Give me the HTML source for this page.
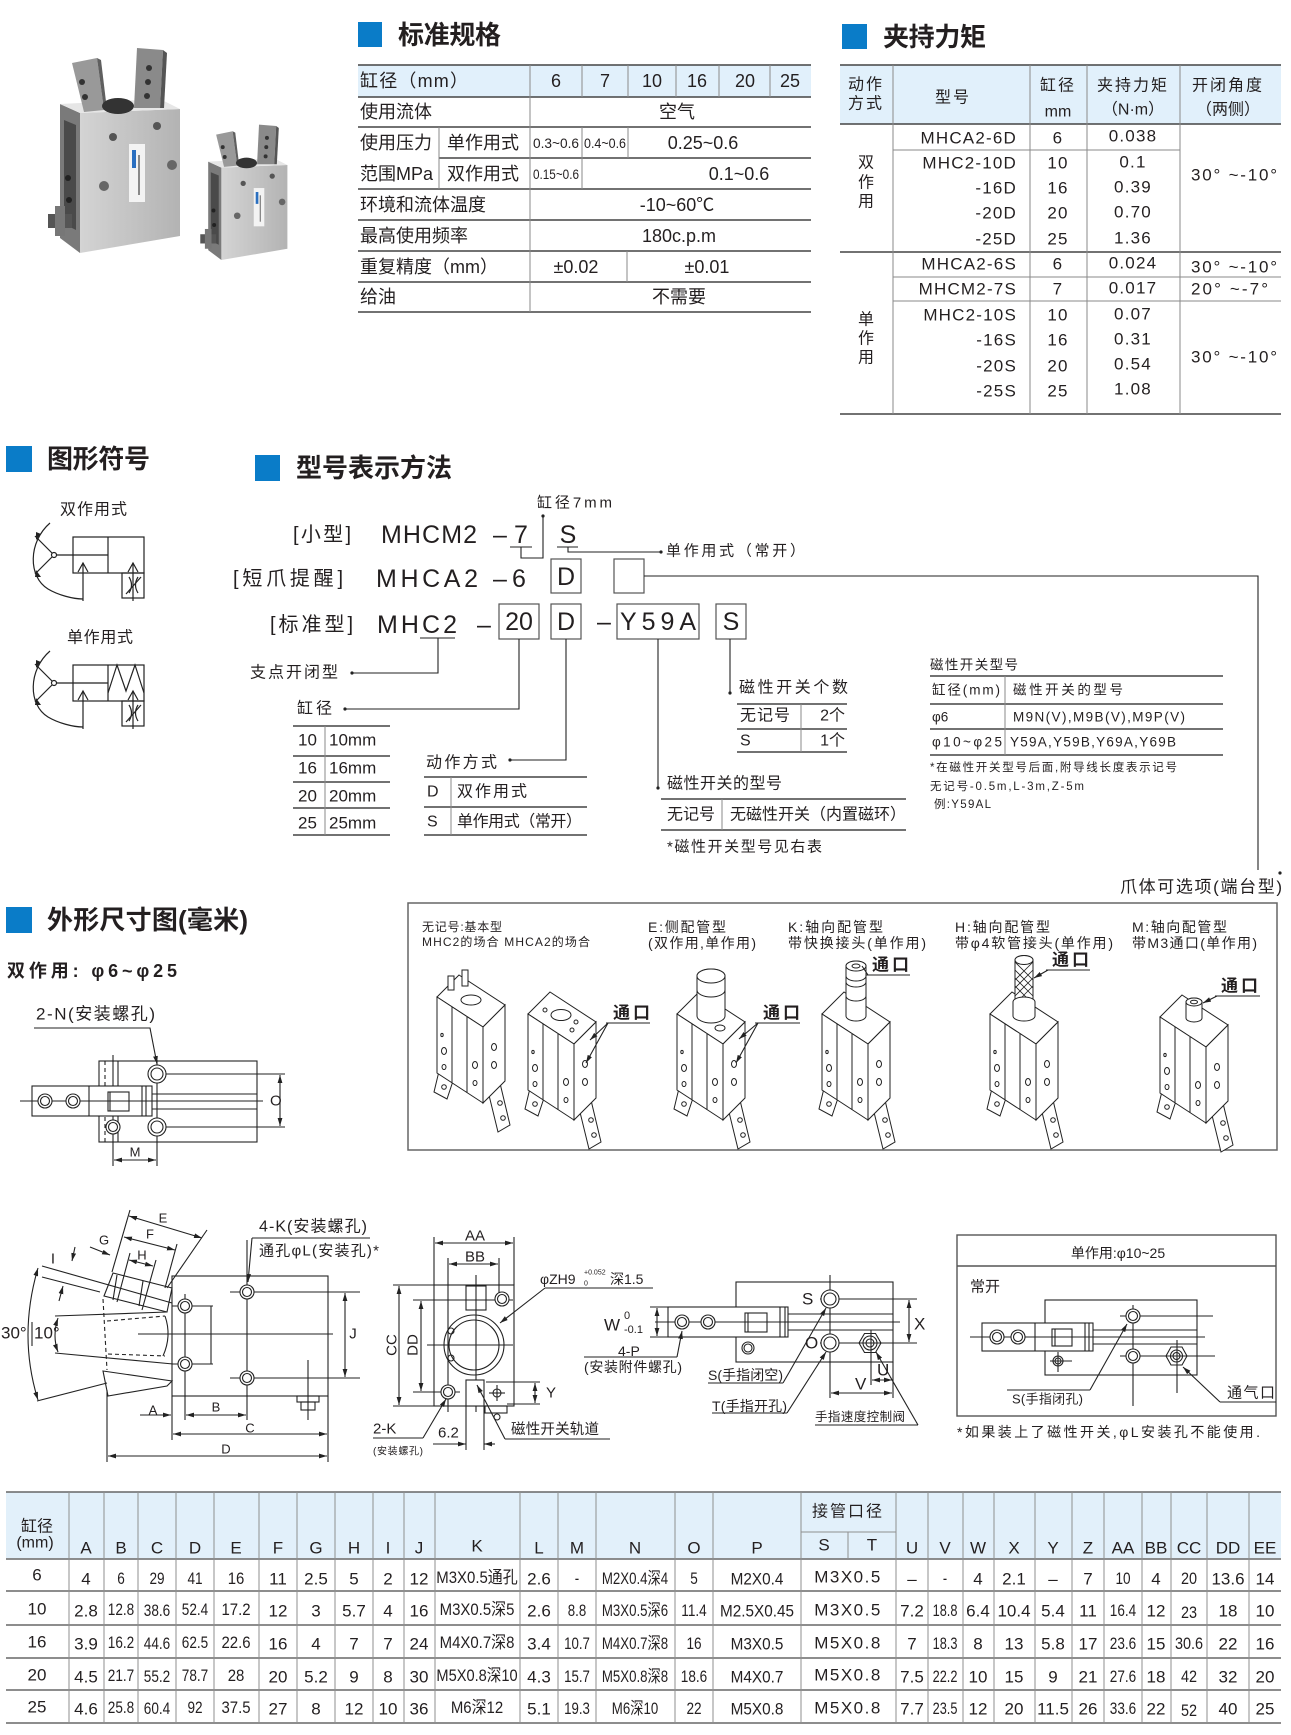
<!DOCTYPE html>
<html><head><meta charset="utf-8">
<style>
html,body{margin:0;padding:0;background:#fff;}
svg{display:block;}
text{font-family:"Liberation Sans","Noto Sans CJK SC",sans-serif;fill:#231f20;dominant-baseline:central;}
.ttl{font-size:26px;font-weight:bold;}
.m{text-anchor:middle}
.e{text-anchor:end}
.ln{stroke:#222;fill:none;stroke-width:1.1}
.tl{stroke:#444;stroke-width:1.6}
.tv{stroke:#8a8a8a;stroke-width:1}
.bt text{font-size:17px;text-anchor:middle}
</style></head><body>
<svg width="1291" height="1735" viewBox="0 0 1291 1735" xmlns="http://www.w3.org/2000/svg">
<defs>
<marker id="a" viewBox="0 0 10 6" refX="10" refY="3" markerWidth="8" markerHeight="5" orient="auto-start-reverse" markerUnits="userSpaceOnUse"><path d="M0,0 L10,3 L0,6 z" fill="#222"/></marker>
<linearGradient id="gb" x1="0" x2="1"><stop offset="0" stop-color="#d4d4d4"/><stop offset="1" stop-color="#b3b3b3"/></linearGradient>
<g id="h9"><circle r="9" fill="#fff" stroke="#222" stroke-width="1.1"/><circle r="6" fill="none" stroke="#222" stroke-width="1.1"/></g>
<g id="h7"><circle r="7" fill="#fff" stroke="#222" stroke-width="1.1"/><circle r="4.5" fill="none" stroke="#222" stroke-width="1.1"/></g>
<g id="photo">
 <polygon points="60,104 80,113 80,253 60,238" fill="#7a7a7a"/>
 <polygon points="64,120 76,125 76,230 64,224" fill="#4a4a4a"/>
 <polygon points="80,113 180,109 180,236 80,253" fill="url(#gb)"/>
 <polygon points="60,104 160,99 180,109 80,113" fill="#e6e6e6"/>
 <polygon points="72,63 97,58 104,110 84,112" fill="#999"/>
 <polygon points="97,58 101,60 107,110 104,110" fill="#5f5f5f"/>
 <polygon points="137,48 163,50 160,108 134,108" fill="#8a8a8a"/>
 <polygon points="163,50 167,53 164,108 160,108" fill="#555"/>
 <ellipse cx="118" cy="106" rx="16" ry="8" fill="#333"/>
 <circle cx="82" cy="82" r="3" fill="#333"/><circle cx="85" cy="97" r="3" fill="#333"/>
 <circle cx="149" cy="68" r="3" fill="#333"/><circle cx="148" cy="82" r="3" fill="#333"/><circle cx="147" cy="96" r="3" fill="#333"/>
 <circle cx="113" cy="137" r="4" fill="#555"/><circle cx="157" cy="126" r="4" fill="#555"/>
 <circle cx="104" cy="186" r="5" fill="#666"/><circle cx="172" cy="165" r="5" fill="#666"/>
 <circle cx="68" cy="178" r="3" fill="#222"/><circle cx="69" cy="200" r="3" fill="#222"/>
 <rect x="129" y="144" width="16" height="58" fill="#f3f3f3"/>
 <rect x="132" y="150" width="4" height="18" fill="#2a6fc0"/>
 <rect x="138" y="155" width="2" height="40" fill="#888"/>
 <rect x="48" y="214" width="24" height="14" fill="#555"/>
 <rect x="55" y="206" width="10" height="30" fill="#777"/>
</g>
<g id="gr" fill="#fff" stroke="#222" stroke-width="1">
 <polygon points="3,92 18,100 10,124 -3,117"/>
 <circle cx="7" cy="112" r="2.3"/>
 <polygon points="50,112 62,104 73,150 61,157"/>
 <circle cx="63" cy="128" r="2.3"/><circle cx="66" cy="143" r="2.3"/>
 <polygon points="0,22 22,0 68,30 46,52"/>
 <polygon points="0,22 46,52 46,128 0,98"/>
 <polygon points="46,52 68,30 68,106 46,128"/>
 <line x1="15" y1="32" x2="15" y2="108"/>
 <line x1="30" y1="42" x2="30" y2="118"/>
 <ellipse cx="5" cy="60" rx="1.2" ry="1.6"/>
 <ellipse cx="7" cy="76" rx="2.5" ry="3.5"/>
 <ellipse cx="7" cy="92" rx="2" ry="2.5"/>
 <ellipse cx="38" cy="90" rx="2.5" ry="3.5"/>
 <ellipse cx="38" cy="108" rx="2" ry="2.5"/>
 <ellipse cx="57" cy="72" rx="2.5" ry="3.5"/>
 <ellipse cx="57" cy="90" rx="2.5" ry="3.5"/>
</g>
<g id="sym" fill="none" stroke="#222" stroke-width="1.2">
 <rect x="0" y="0" width="71" height="36"/>
 <line x1="35" y1="0" x2="35" y2="36"/>
 <line x1="0" y1="18" x2="35" y2="18"/>
 <rect x="49" y="36" width="22" height="25"/>
 <polyline points="5,35 10,26 15,35"/>
 <line x1="10" y1="26" x2="10" y2="64"/>
 <polyline points="55,35 60,26 65,35"/>
 <line x1="60" y1="26" x2="60" y2="64"/>
 <line x1="53" y1="57" x2="68" y2="40"/>
 <path d="M56,40 Q61,48 56,56 M65,40 Q60,48 65,56"/>
 <circle cx="-19" cy="18" r="2.5"/>
 <line x1="-16.5" y1="18" x2="0" y2="18"/>
 <line x1="-21" y1="16" x2="-38" y2="-1"/>
 <line x1="-21" y1="20" x2="-38" y2="37"/>
 <path d="M-23,-14 C-45,5 -45,40 -25,52 C-15,58 0,62 10,62"/>
 <polygon points="-37,-5 -32,-3 -37,3" fill="#222" stroke="none"/>
 <polygon points="-37,33 -32,40 -38,40" fill="#222" stroke="none"/>
</g>
</defs>

<!-- ============ Product photos ============ -->
<use href="#photo"/>
<use href="#photo" transform="translate(168.6,93) scale(0.66)"/>

<!-- ============ 标准规格 ============ -->
<rect x="358" y="22" width="24" height="25" fill="#0a7cc8"/>
<text x="398" y="35" class="ttl" textLength="103">标准规格</text>
<rect x="358" y="65" width="453" height="32" fill="#e1f0fb"/>
<line x1="358" y1="65" x2="811" y2="65" class="tl"/>
<g class="tl">
<line x1="358" y1="97" x2="811" y2="97"/><line x1="358" y1="127" x2="811" y2="127"/>
<line x1="439" y1="158" x2="811" y2="158"/><line x1="358" y1="189" x2="811" y2="189"/>
<line x1="358" y1="220" x2="811" y2="220"/><line x1="358" y1="251" x2="811" y2="251"/>
<line x1="358" y1="282" x2="811" y2="282"/><line x1="358" y1="312" x2="811" y2="312"/>
</g>
<g class="tv">
<line x1="530" y1="65" x2="530" y2="312"/><line x1="439" y1="127" x2="439" y2="189"/>
<line x1="582" y1="65" x2="582" y2="97"/><line x1="628" y1="65" x2="628" y2="97"/>
<line x1="676" y1="65" x2="676" y2="97"/><line x1="719" y1="65" x2="719" y2="97"/>
<line x1="770" y1="65" x2="770" y2="97"/>
<line x1="582" y1="127" x2="582" y2="189"/><line x1="628" y1="127" x2="628" y2="158"/>
<line x1="627" y1="251" x2="627" y2="282"/>
</g>
<g style="font-size:18px">
<text x="360" y="81" textLength="108">缸径（mm）</text>
<text x="556" y="81" class="m">6</text><text x="605" y="81" class="m">7</text>
<text x="652" y="81" class="m">10</text><text x="697" y="81" class="m">16</text>
<text x="745" y="81" class="m">20</text><text x="790" y="81" class="m">25</text>
<text x="360" y="112">使用流体</text><text x="677" y="112" class="m">空气</text>
<text x="360" y="143">使用压力</text><text x="447" y="143">单作用式</text>
<text x="360" y="174">范围MPa</text><text x="447" y="174">双作用式</text>
<text x="703" y="143" class="m">0.25~0.6</text>
<text x="739" y="174" class="m">0.1~0.6</text>
<text x="360" y="205">环境和流体温度</text><text x="677" y="205" class="m">-10~60℃</text>
<text x="360" y="236">最高使用频率</text><text x="679" y="236" class="m">180c.p.m</text>
<text x="360" y="267">重复精度（mm）</text><text x="576" y="267" class="m">±0.02</text><text x="707" y="267" class="m">±0.01</text>
<text x="360" y="297">给油</text><text x="679" y="297" class="m">不需要</text>
</g>
<g style="font-size:14px">
<text x="533" y="143" textLength="46" lengthAdjust="spacingAndGlyphs">0.3~0.6</text>
<text x="584" y="143" textLength="42" lengthAdjust="spacingAndGlyphs">0.4~0.6</text>
<text x="533" y="174" textLength="46" lengthAdjust="spacingAndGlyphs">0.15~0.6</text>
</g>

<!-- ============ 夹持力矩 ============ -->
<rect x="842" y="24" width="25" height="25" fill="#0a7cc8"/>
<text x="883" y="37" class="ttl" textLength="103">夹持力矩</text>
<rect x="840" y="65" width="441" height="59" fill="#e1f0fb"/>
<g class="tl">
<line x1="840" y1="65" x2="1281" y2="65"/><line x1="840" y1="124" x2="1281" y2="124"/>
<line x1="840" y1="252" x2="1281" y2="252"/><line x1="840" y1="414" x2="1281" y2="414"/>
</g>
<g class="tv">
<line x1="893" y1="65" x2="893" y2="414"/><line x1="1030" y1="65" x2="1030" y2="414"/>
<line x1="1087" y1="65" x2="1087" y2="414"/><line x1="1180" y1="65" x2="1180" y2="414"/>
<line x1="893" y1="150" x2="1180" y2="150"/>
<line x1="893" y1="277" x2="1281" y2="277"/><line x1="893" y1="301" x2="1281" y2="301"/>
</g>
<g style="font-size:16px">
<text x="866" y="85" class="m" letter-spacing="2">动作</text>
<text x="866" y="104" class="m" letter-spacing="2">方式</text>
<text x="953" y="98" class="m" letter-spacing="2">型号</text>
<text x="1058" y="86" class="m" letter-spacing="2">缸径</text>
<text x="1058" y="112" class="m">mm</text>
<text x="1133" y="86" class="m" letter-spacing="2">夹持力矩</text>
<text x="1133" y="110" class="m">（N·m）</text>
<text x="1228" y="86" class="m" letter-spacing="2">开闭角度</text>
<text x="1228" y="110" class="m">（两侧）</text>
<text x="866" y="163" class="m">双</text><text x="866" y="183" class="m">作</text><text x="866" y="202" class="m">用</text>
<text x="866" y="320" class="m">单</text><text x="866" y="339" class="m">作</text><text x="866" y="358" class="m">用</text>
</g>
<g style="font-size:17px" letter-spacing="1.2">
<text x="1017" y="138" class="e">MHCA2-6D</text>
<text x="1017" y="163" class="e">MHC2-10D</text>
<text x="1017" y="188" class="e">-16D</text>
<text x="1017" y="213" class="e">-20D</text>
<text x="1017" y="239" class="e">-25D</text>
<text x="1017" y="264" class="e">MHCA2-6S</text>
<text x="1017" y="289" class="e">MHCM2-7S</text>
<text x="1017" y="315" class="e">MHC2-10S</text>
<text x="1017" y="340" class="e">-16S</text>
<text x="1017" y="366" class="e">-20S</text>
<text x="1017" y="391" class="e">-25S</text>
<text x="1058" y="138" class="m">6</text><text x="1058" y="163" class="m">10</text><text x="1058" y="188" class="m">16</text>
<text x="1058" y="213" class="m">20</text><text x="1058" y="239" class="m">25</text><text x="1058" y="264" class="m">6</text>
<text x="1058" y="289" class="m">7</text><text x="1058" y="315" class="m">10</text><text x="1058" y="340" class="m">16</text>
<text x="1058" y="366" class="m">20</text><text x="1058" y="391" class="m">25</text>
<text x="1133" y="136" class="m">0.038</text><text x="1133" y="162" class="m">0.1</text><text x="1133" y="187" class="m">0.39</text>
<text x="1133" y="212" class="m">0.70</text><text x="1133" y="238" class="m">1.36</text><text x="1133" y="263" class="m">0.024</text>
<text x="1133" y="288" class="m">0.017</text><text x="1133" y="314" class="m">0.07</text><text x="1133" y="339" class="m">0.31</text>
<text x="1133" y="364" class="m">0.54</text><text x="1133" y="389" class="m">1.08</text>
</g>
<g style="font-size:17px">
<text x="1191" y="175" textLength="86">30°  ~-10°</text>
<text x="1191" y="267" textLength="86">30°  ~-10°</text>
<text x="1191" y="289" textLength="77">20°  ~-7°</text>
<text x="1191" y="357" textLength="86">30°  ~-10°</text>
</g>

<!-- ============ 图形符号 ============ -->
<rect x="6" y="446" width="26" height="26" fill="#0a7cc8"/>
<text x="47" y="459" class="ttl" textLength="103">图形符号</text>
<text x="60" y="510" style="font-size:16px" textLength="67">双作用式</text>
<use href="#sym" transform="translate(73,537)"/>
<text x="67" y="638" style="font-size:16px" textLength="66">单作用式</text>
<use href="#sym" transform="translate(73,665)"/>
<polyline points="108,693 117,665 126,691 135,665 144,693" fill="none" stroke="#222" stroke-width="1.2"/>

<!-- ============ 型号表示方法 ============ -->
<rect x="255" y="455" width="25" height="26" fill="#0a7cc8"/>
<text x="296" y="468" class="ttl" textLength="156">型号表示方法</text>
<g style="font-size:20px">
<text x="293" y="535" textLength="58">[小型]</text>
<text x="233" y="579" textLength="110">[短爪提醒]</text>
<text x="270" y="625" textLength="83">[标准型]</text>
</g>
<g style="font-size:25px">
<text x="381" y="535" textLength="96">MHCM2</text>
<text x="376" y="579" textLength="102">MHCA2</text>
<text x="377" y="625" textLength="80">MHC2</text>
<text x="500" y="535" class="m">–</text>
<text x="500" y="579" class="m">–</text>
<text x="484" y="625" class="m">–</text>
<text x="604" y="622" class="m">–</text>
<text x="521" y="535" class="m">7</text>
<text x="568" y="535" class="m">S</text>
<text x="519" y="579" class="m">6</text>
<text x="566" y="577" class="m">D</text>
<text x="519" y="622" class="m">20</text>
<text x="566" y="622" class="m">D</text>
<text x="658" y="622" class="m" textLength="76">Y59A</text>
<text x="731" y="622" class="m">S</text>
</g>
<g fill="none" stroke="#555" stroke-width="1.2">
<rect x="551" y="559" width="30" height="34"/>
<rect x="614" y="559" width="30" height="34"/>
<rect x="499" y="604" width="40" height="35"/>
<rect x="551" y="604" width="30" height="35"/>
<rect x="617" y="604" width="82" height="35"/>
<rect x="716" y="604" width="30" height="35"/>
</g>
<g class="ln" stroke="#555">
<line x1="510" y1="547" x2="532" y2="547"/>
<polyline points="521,547 521,558 543,558 543,516"/>
<line x1="557" y1="547" x2="578" y2="547"/>
<polyline points="568,547 568,552 660,552"/>
<polyline points="644,576 1258,576 1258,870"/>
<line x1="420" y1="638" x2="455" y2="638"/>
<polyline points="438,638 438,673 352,673"/>
<polyline points="519,639 519,709 345,709"/>
<polyline points="566,639 566,760 510,760"/>
<line x1="658" y1="639" x2="658" y2="788"/>
<line x1="730" y1="639" x2="730" y2="693"/>
</g>
<g fill="#222">
<circle cx="543" cy="516" r="1.6"/><circle cx="661" cy="552" r="1.6"/><circle cx="352" cy="673" r="1.6"/>
<circle cx="345" cy="709" r="1.6"/><circle cx="510" cy="760" r="1.6"/><circle cx="658" cy="788" r="1.6"/>
<circle cx="730" cy="693" r="1.6"/><circle cx="1280" cy="873" r="1.6"/>
</g>
<g style="font-size:15px">
<text x="537" y="503" textLength="75">缸径7mm</text>
<text x="666" y="551" textLength="139">单作用式（常开）</text>
</g>
<g style="font-size:16px">
<text x="250" y="673" textLength="88">支点开闭型</text>
<text x="297" y="709" textLength="35">缸径</text>
<text x="426" y="763" textLength="71">动作方式</text>
<text x="739" y="688" textLength="109">磁性开关个数</text>
<text x="667" y="784" textLength="115">磁性开关的型号</text>
</g>
<g class="tl" stroke-width="1.3">
<line x1="293" y1="726" x2="390" y2="726"/><line x1="293" y1="756" x2="390" y2="756"/>
<line x1="293" y1="782" x2="390" y2="782"/><line x1="293" y1="808" x2="390" y2="808"/>
<line x1="293" y1="835" x2="390" y2="835"/>
<line x1="424" y1="777" x2="587" y2="777"/><line x1="424" y1="807" x2="587" y2="807"/><line x1="424" y1="835" x2="587" y2="835"/>
<line x1="737" y1="704" x2="847" y2="704"/><line x1="737" y1="729" x2="847" y2="729"/><line x1="737" y1="752" x2="847" y2="752"/>
<line x1="661" y1="799" x2="906" y2="799"/><line x1="661" y1="830" x2="906" y2="830"/>
<line x1="930" y1="676" x2="1223" y2="676"/><line x1="930" y1="704" x2="1223" y2="704"/>
<line x1="930" y1="729" x2="1223" y2="729"/><line x1="930" y1="755" x2="1223" y2="755"/>
</g>
<g class="tv" stroke="#555">
<line x1="325" y1="726" x2="325" y2="835"/>
<line x1="451" y1="777" x2="451" y2="835"/>
<line x1="801" y1="704" x2="801" y2="752"/>
<line x1="722" y1="799" x2="722" y2="830"/>
<line x1="1005" y1="676" x2="1005" y2="755"/>
</g>
<g style="font-size:17px">
<text x="298" y="740">10</text><text x="329" y="740">10mm</text>
<text x="298" y="768">16</text><text x="329" y="768">16mm</text>
<text x="298" y="796">20</text><text x="329" y="796">20mm</text>
<text x="298" y="823">25</text><text x="329" y="823">25mm</text>
</g>
<g style="font-size:16px">
<text x="427" y="792">D</text><text x="457" y="792" textLength="70">双作用式</text>
<text x="427" y="822">S</text><text x="457" y="822" textLength="125">单作用式（常开）</text>
<text x="740" y="716" textLength="50">无记号</text><text x="845" y="716" class="e">2个</text>
<text x="740" y="741">S</text><text x="845" y="741" class="e">1个</text>
<text x="667" y="815" textLength="48">无记号</text>
<text x="730" y="815" textLength="176">无磁性开关（内置磁环）</text>
<text x="667" y="847" textLength="155" style="font-size:15px">*磁性开关型号见右表</text>
</g>
<g style="font-size:13.5px">
<text x="930" y="665" textLength="88">磁性开关型号</text>
<text x="932" y="690" textLength="68">缸径(mm)</text>
<text x="1013" y="690" textLength="110">磁性开关的型号</text>
<text x="932" y="717">φ6</text>
<text x="1013" y="717" textLength="172">M9N(V),M9B(V),M9P(V)</text>
<text x="932" y="742" textLength="70">φ10~φ25</text>
<text x="1010" y="742" textLength="166">Y59A,Y59B,Y69A,Y69B</text>
</g>
<g style="font-size:11.5px">
<text x="930" y="768" textLength="247">*在磁性开关型号后面,附导线长度表示记号</text>
<text x="930" y="787" textLength="154">无记号-0.5m,L-3m,Z-5m</text>
<text x="934" y="805" textLength="57">例:Y59AL</text>
</g>
<text x="1120" y="887" style="font-size:17px" textLength="162">爪体可选项(端台型)</text>

<!-- ============ options box ============ -->
<rect x="408" y="903" width="869" height="247" fill="none" stroke="#666" stroke-width="1.5"/>
<g style="font-size:12px">
<text x="422" y="927" textLength="80">无记号:基本型</text>
<text x="422" y="942" textLength="168">MHC2的场合  MHCA2的场合</text>
</g>
<g style="font-size:14px">
<text x="648" y="927" textLength="78">E:侧配管型</text>
<text x="648" y="943" textLength="108">(双作用,单作用)</text>
<text x="788" y="927" textLength="95">K:轴向配管型</text>
<text x="788" y="943" textLength="138">带快换接头(单作用)</text>
<text x="955" y="927" textLength="95">H:轴向配管型</text>
<text x="955" y="943" textLength="158">带φ4软管接头(单作用)</text>
<text x="1132" y="927" textLength="95">M:轴向配管型</text>
<text x="1132" y="943" textLength="125">带M3通口(单作用)</text>
</g>
<use href="#gr" x="437" y="975"/>
<g fill="#fff" stroke="#222" stroke-width="1">
<rect x="448" y="976" width="6" height="14"/><rect x="462" y="970" width="6" height="16"/>
<ellipse cx="471" cy="1000" rx="10" ry="5"/>
</g>
<use href="#gr" x="528" y="992"/>
<g fill="#fff" stroke="#222" stroke-width="1">
<ellipse cx="561" cy="1015" rx="10" ry="5.5"/><circle cx="545" cy="1010" r="2"/><circle cx="576" cy="1022" r="2"/><circle cx="572" cy="1030" r="2"/>
</g>
<use href="#gr" x="677" y="992"/>
<g fill="#fff" stroke="#222" stroke-width="1">
<path d="M697,1016 L697,976 A14,7 0 0 1 725,976 L725,1016 A14,7 0 0 1 697,1016 Z"/>
<ellipse cx="711" cy="976" rx="14" ry="7"/>
<path d="M697,990 A14,7 0 0 0 725,990"/>
<ellipse cx="720" cy="1028" rx="5" ry="3"/>
</g>
<use href="#gr" x="822" y="992"/>
<g fill="#fff" stroke="#222" stroke-width="1">
<path d="M846,1016 L846,966 A10,5 0 0 1 866,966 L866,1016 A10,5 0 0 1 846,1016 Z"/>
<ellipse cx="856" cy="966" rx="10" ry="5"/>
<path d="M846,976 A10,5 0 0 0 866,976 M846,982 A10,5 0 0 0 866,982 M846,996 A10,5 0 0 0 866,996"/>
<ellipse cx="856" cy="966" rx="4" ry="2"/>
</g>
<use href="#gr" x="990" y="992"/>
<g fill="#fff" stroke="#222" stroke-width="1">
<path d="M1015,1016 L1015,960 A9,4.5 0 0 1 1033,960 L1033,1016 A9,4.5 0 0 1 1015,1016 Z"/>
<path d="M1015,962 L1033,980 M1015,970 L1033,988 M1015,978 L1033,996 M1015,986 L1031,1002 M1033,962 L1015,980 M1033,970 L1015,988 M1033,978 L1015,996 M1033,986 L1017,1002" stroke-width="0.8"/>
<ellipse cx="1024" cy="960" rx="9" ry="4.5"/>
<path d="M1013,1002 L1013,1016 A11,5 0 0 0 1035,1016 L1035,1002 A11,5 0 0 0 1013,1002Z"/>
</g>
<use href="#gr" x="1160" y="995"/>
<g fill="#fff" stroke="#222" stroke-width="1">
<path d="M1186,1018 L1186,1002 A8,4 0 0 1 1202,1002 L1202,1018 A8,4 0 0 1 1186,1018 Z"/>
<ellipse cx="1194" cy="1002" rx="8" ry="4"/><ellipse cx="1194" cy="1002" rx="3.5" ry="1.8"/>
</g>
<g style="font-size:17px;font-weight:bold">
<text x="613" y="1013" letter-spacing="3">通口</text>
<text x="763" y="1013" letter-spacing="3">通口</text>
<text x="872" y="965" letter-spacing="3">通口</text>
<text x="1052" y="960" letter-spacing="3">通口</text>
<text x="1221" y="986" letter-spacing="3">通口</text>
</g>
<g class="ln" stroke-width="0.9">
<line x1="606" y1="1023" x2="650" y2="1023"/>
<line x1="608" y1="1023" x2="590" y2="1040" marker-end="url(#a)"/>
<line x1="608" y1="1023" x2="586" y2="1063" marker-end="url(#a)"/>
<line x1="755" y1="1023" x2="800" y2="1023"/>
<line x1="758" y1="1023" x2="739" y2="1039" marker-end="url(#a)"/>
<line x1="758" y1="1023" x2="736" y2="1063" marker-end="url(#a)"/>
<line x1="866" y1="975" x2="910" y2="975"/>
<line x1="868" y1="975" x2="862" y2="966"/>
<line x1="1046" y1="970" x2="1090" y2="970"/>
<line x1="1048" y1="970" x2="1034" y2="978" marker-end="url(#a)"/>
<line x1="1215" y1="996" x2="1260" y2="996"/>
<line x1="1217" y1="996" x2="1203" y2="1003" marker-end="url(#a)"/>
</g>

<!-- ============ 外形尺寸图 ============ -->
<rect x="6" y="907" width="26" height="26" fill="#0a7cc8"/>
<text x="47" y="920" class="ttl" textLength="201">外形尺寸图(毫米)</text>
<text x="7" y="971" style="font-size:18px;font-weight:bold" textLength="170">双作用: φ6~φ25</text>
<text x="36" y="1014" style="font-size:17px" textLength="119">2-N(安装螺孔)</text>

<!-- top view -->
<g class="ln">
<rect x="99" y="1061" width="158" height="81"/>
<line x1="105" y1="1061" x2="105" y2="1142" stroke-dasharray="4,3"/>
<line x1="113" y1="1055" x2="113" y2="1166"/>
<line x1="118" y1="1061" x2="118" y2="1142"/>
<rect x="32" y="1086" width="120" height="30" fill="#fff"/>
<line x1="89" y1="1086" x2="89" y2="1116"/>
<rect x="108" y="1092" width="21" height="19"/>
<line x1="110" y1="1092" x2="110" y2="1111"/>
<line x1="142" y1="1086" x2="142" y2="1116"/><line x1="146" y1="1086" x2="146" y2="1116"/>
<line x1="152" y1="1094" x2="257" y2="1094"/><line x1="152" y1="1109" x2="257" y2="1109"/>
<line x1="20" y1="1101" x2="263" y2="1101"/>
<line x1="157" y1="1074" x2="285" y2="1074"/><line x1="157" y1="1127" x2="285" y2="1127"/>
<line x1="157" y1="1060" x2="157" y2="1166"/>
<line x1="280" y1="1075" x2="280" y2="1126" marker-start="url(#a)" marker-end="url(#a)"/>
<line x1="114" y1="1160" x2="156" y2="1160" marker-start="url(#a)" marker-end="url(#a)"/>
<polyline points="34,1028 150,1028 157,1064" marker-end="url(#a)"/>
</g>
<use href="#h9" x="157" y="1074"/><use href="#h9" x="157" y="1127"/>
<use href="#h7" x="113" y="1127"/><use href="#h7" x="45" y="1101"/><use href="#h7" x="73" y="1101"/>
<text x="270" y="1101" style="font-size:15px">O</text>
<text x="135" y="1152" class="m" style="font-size:13px">M</text>

<!-- side view -->
<g class="ln">
<rect x="172" y="1276" width="156" height="120"/>
<polygon points="104,1296 113,1273 172,1288 167,1312" fill="#fff"/>
<line x1="117" y1="1275" x2="113" y2="1300"/><line x1="143" y1="1281" x2="139" y2="1306"/>
<line x1="103" y1="1299" x2="107" y2="1370" stroke-dasharray="4,3"/>
<line x1="107" y1="1321" x2="165" y2="1316" stroke-dasharray="4,3"/>
<line x1="108" y1="1354" x2="165" y2="1356" stroke-dasharray="4,3"/>
<path d="M165,1316 Q172,1336 163,1356"/>
<polygon points="103,1371 172,1381 167,1386 108,1396" fill="#fff"/>
<line x1="42" y1="1266" x2="172" y2="1303"/>
<line x1="42" y1="1277" x2="100" y2="1292"/>
<line x1="55" y1="1316" x2="167" y2="1312"/>
<line x1="55" y1="1353" x2="173" y2="1364"/>
<line x1="37" y1="1401" x2="107" y2="1383"/>
<line x1="138" y1="1334" x2="333" y2="1334"/>
<path d="M38,1268 Q18,1336 38,1400" marker-start="url(#a)" marker-end="url(#a)"/>
<path d="M58,1318 Q52,1336 58,1352" marker-start="url(#a)" marker-end="url(#a)"/>
<line x1="32" y1="1322" x2="32" y2="1346"/>
<line x1="129" y1="1216" x2="202" y2="1238" marker-start="url(#a)" marker-end="url(#a)"/>
<line x1="112" y1="1272" x2="130" y2="1210"/><line x1="167" y1="1288" x2="207" y2="1230"/>
<line x1="124" y1="1237" x2="175" y2="1250" marker-start="url(#a)" marker-end="url(#a)"/>
<line x1="177" y1="1244" x2="165" y2="1288"/>
<line x1="129" y1="1260" x2="153" y2="1266" marker-start="url(#a)" marker-end="url(#a)"/>
<line x1="130" y1="1253" x2="117" y2="1302"/><line x1="156" y1="1260" x2="142" y2="1310"/>
<line x1="90" y1="1247" x2="110" y2="1255" marker-end="url(#a)"/>
<line x1="75" y1="1247" x2="72" y2="1261" marker-end="url(#a)"/>
<line x1="59" y1="1301" x2="63" y2="1286" marker-end="url(#a)"/>
<line x1="185" y1="1294" x2="185" y2="1420"/>
<line x1="247" y1="1240" x2="247" y2="1420"/>
<line x1="230" y1="1292" x2="360" y2="1292"/><line x1="230" y1="1378" x2="360" y2="1378"/>
<line x1="172" y1="1306" x2="213" y2="1306"/><line x1="172" y1="1364" x2="213" y2="1364"/>
<line x1="211" y1="1306" x2="211" y2="1364"/>
<line x1="345" y1="1293" x2="345" y2="1377" marker-start="url(#a)" marker-end="url(#a)"/>
<rect x="297" y="1396" width="22" height="6"/><rect x="301" y="1402" width="14" height="8"/>
<line x1="308" y1="1360" x2="308" y2="1420"/>
<polyline points="252,1238 370,1238"/>
<line x1="252" y1="1238" x2="248" y2="1282" marker-end="url(#a)"/>
<line x1="172" y1="1396" x2="172" y2="1440"/><line x1="328" y1="1396" x2="328" y2="1462"/>
<line x1="107" y1="1390" x2="107" y2="1462"/>
<line x1="140" y1="1415" x2="171" y2="1415" marker-end="url(#a)"/>
<line x1="186" y1="1415" x2="246" y2="1415" marker-start="url(#a)" marker-end="url(#a)"/>
<line x1="173" y1="1434" x2="327" y2="1434" marker-start="url(#a)" marker-end="url(#a)"/>
<line x1="108" y1="1456" x2="327" y2="1456" marker-start="url(#a)" marker-end="url(#a)"/>
</g>
<use href="#h7" x="185" y="1306"/><use href="#h7" x="185" y="1364"/>
<use href="#h7" x="247" y="1292"/><use href="#h7" x="247" y="1378"/>
<g style="font-size:13px">
<text x="163" y="1218" class="m">E</text><text x="150" y="1234" class="m">F</text>
<text x="104" y="1240" class="m">G</text><text x="142" y="1255" class="m">H</text>
<text x="53" y="1259" class="m" style="font-size:15px">I</text>
<text x="153" y="1410" class="m">A</text><text x="216" y="1407" class="m">B</text>
<text x="250" y="1428" class="m">C</text><text x="226" y="1449" class="m">D</text>
<text x="353" y="1334" class="m" style="font-size:15px">J</text>
</g>
<text x="1" y="1333" style="font-size:17px">30°</text>
<text x="34" y="1333" style="font-size:17px">10°</text>
<text x="259" y="1227" style="font-size:16px" textLength="108">4-K(安装螺孔)</text>
<text x="259" y="1251" style="font-size:15px" textLength="120">通孔φL(安装孔)*</text>

<!-- front view -->
<g class="ln">
<rect x="434" y="1285" width="80" height="121"/>
<rect x="466" y="1286" width="20" height="24"/><line x1="466" y1="1300" x2="486" y2="1300"/>
<circle cx="474" cy="1345" r="30"/><circle cx="474" cy="1345" r="25"/>
<circle cx="451" cy="1331" r="3"/><circle cx="451" cy="1358" r="3"/>
<line x1="476" y1="1275" x2="476" y2="1412"/>
<line x1="427" y1="1345" x2="513" y2="1345"/>
<rect x="466" y="1380" width="18" height="26" fill="#fff"/>
<line x1="466" y1="1406" x2="466" y2="1450"/><line x1="484" y1="1406" x2="484" y2="1450"/>
<line x1="433" y1="1444" x2="466" y2="1444" marker-end="url(#a)"/>
<line x1="495" y1="1444" x2="484" y2="1444" marker-end="url(#a)"/>
<circle cx="497" cy="1393" r="4"/><line x1="489" y1="1393" x2="505" y2="1393"/><line x1="497" y1="1385" x2="497" y2="1401"/>
<rect x="485" y="1406" width="22" height="7"/><circle cx="497" cy="1417" r="3"/>
<line x1="434" y1="1237" x2="434" y2="1285"/><line x1="514" y1="1237" x2="514" y2="1285"/>
<line x1="435" y1="1243" x2="513" y2="1243" marker-start="url(#a)" marker-end="url(#a)"/>
<line x1="448" y1="1258" x2="448" y2="1412"/><line x1="499" y1="1258" x2="499" y2="1300"/>
<line x1="449" y1="1264" x2="498" y2="1264" marker-start="url(#a)" marker-end="url(#a)"/>
<line x1="393" y1="1285" x2="434" y2="1285"/><line x1="393" y1="1406" x2="434" y2="1406"/>
<line x1="399" y1="1286" x2="399" y2="1405" marker-start="url(#a)" marker-end="url(#a)"/>
<line x1="413" y1="1300" x2="513" y2="1300"/><line x1="413" y1="1392" x2="460" y2="1392"/>
<line x1="421" y1="1301" x2="421" y2="1391" marker-start="url(#a)" marker-end="url(#a)"/>
<line x1="486" y1="1382" x2="540" y2="1382"/><line x1="507" y1="1404" x2="540" y2="1404"/>
<line x1="535" y1="1383" x2="535" y2="1403" marker-start="url(#a)" marker-end="url(#a)"/>
<polyline points="653,1288 545,1288"/><line x1="545" y1="1288" x2="500" y2="1323" marker-end="url(#a)"/>
<polyline points="610,1439 505,1439"/><line x1="505" y1="1439" x2="477" y2="1385" marker-end="url(#a)"/>
<polyline points="373,1438 423,1438"/><line x1="423" y1="1438" x2="446" y2="1399" marker-end="url(#a)"/>
</g>
<use href="#h7" x="502" y="1299"/><use href="#h7" x="448" y="1392"/>
<g style="font-size:15px">
<text x="475" y="1236" class="m">AA</text>
<text x="475" y="1257" class="m">BB</text>
<text x="392" y="1345" class="m" transform="rotate(-90 392 1345)">CC</text>
<text x="413" y="1345" class="m" transform="rotate(-90 413 1345)">DD</text>
<text x="546" y="1393">Y</text>
<text x="438" y="1433">6.2</text>
<text x="373" y="1429">2-K</text>
</g>
<text x="373" y="1452" style="font-size:10px" textLength="50">(安装螺孔)</text>
<text x="511" y="1430" style="font-size:14.5px" textLength="88">磁性开关轨道</text>
<text x="540" y="1279" style="font-size:14px">φZH9</text>
<text x="584" y="1273" style="font-size:7px">+0.052</text>
<text x="584" y="1284" style="font-size:7px">0</text>
<text x="610" y="1279" style="font-size:14px">深1.5</text>

<!-- right view -->
<g class="ln">
<rect x="736" y="1282" width="157" height="80"/>
<rect x="668" y="1307" width="120" height="30" fill="#fff"/>
<rect x="745" y="1313" width="22" height="19"/><line x1="748" y1="1313" x2="748" y2="1332"/>
<line x1="780" y1="1307" x2="780" y2="1337"/><line x1="785" y1="1307" x2="785" y2="1337"/>
<line x1="788" y1="1314" x2="893" y2="1314"/><line x1="788" y1="1330" x2="893" y2="1330"/>
<line x1="655" y1="1322" x2="900" y2="1322"/>
<line x1="820" y1="1299" x2="917" y2="1299"/><line x1="820" y1="1343" x2="917" y2="1343"/>
<line x1="830" y1="1275" x2="830" y2="1398"/><line x1="871" y1="1330" x2="871" y2="1385"/>
<line x1="893" y1="1362" x2="893" y2="1398"/>
<line x1="650" y1="1307" x2="668" y2="1307"/><line x1="650" y1="1337" x2="668" y2="1337"/>
<line x1="657" y1="1308" x2="657" y2="1336" marker-start="url(#a)" marker-end="url(#a)"/>
<line x1="909" y1="1300" x2="909" y2="1342" marker-start="url(#a)" marker-end="url(#a)"/>
<line x1="872" y1="1380" x2="892" y2="1380" marker-start="url(#a)" marker-end="url(#a)"/>
<line x1="831" y1="1393" x2="892" y2="1393" marker-start="url(#a)" marker-end="url(#a)"/>
<polygon points="881,1343 875.5,1352.5 864.5,1352.5 859,1343 864.5,1333.5 875.5,1333.5"/>
<circle cx="870" cy="1343" r="7"/><circle cx="870" cy="1343" r="4"/>
<circle cx="748" cy="1348" r="6"/><circle cx="748" cy="1348" r="4"/>
<polyline points="584,1357 677,1357"/><line x1="677" y1="1357" x2="682" y2="1331" marker-end="url(#a)"/>
<polyline points="708,1383 783,1383"/><line x1="783" y1="1383" x2="826" y2="1308" marker-end="url(#a)"/>
<polyline points="712,1413 787,1413"/><line x1="787" y1="1413" x2="826" y2="1352" marker-end="url(#a)"/>
<polyline points="815,1425 918,1425"/><line x1="918" y1="1425" x2="876" y2="1352" marker-end="url(#a)"/>
</g>
<use href="#h7" x="682" y="1322"/><use href="#h7" x="708" y="1322"/>
<use href="#h9" x="830" y="1299"/><use href="#h9" x="830" y="1343"/>
<g style="font-size:17px">
<text x="802" y="1299">S</text><text x="805" y="1343">O</text>
<text x="914" y="1324">X</text>
<text x="877" y="1370">U</text>
<text x="855" y="1384">V</text>
<text x="604" y="1325">W</text>
</g>
<text x="624" y="1316" style="font-size:11px">0</text>
<text x="624" y="1330" style="font-size:11px">-0.1</text>
<g style="font-size:14px">
<text x="618" y="1351">4-P</text>
<text x="584" y="1367" textLength="98">(安装附件螺孔)</text>
<text x="708" y="1375" textLength="75">S(手指闭空)</text>
<text x="712" y="1406" textLength="75">T(手指开孔)</text>
</g>
<text x="815" y="1417" style="font-size:12.5px" textLength="90">手指速度控制阀</text>

<!-- single acting box -->
<rect x="957" y="1235" width="319" height="181" fill="none" stroke="#555" stroke-width="1.4"/>
<line x1="957" y1="1266" x2="1276" y2="1266" stroke="#555" stroke-width="1.4"/>
<text x="1118" y="1253" class="m" style="font-size:14px">单作用:φ10~25</text>
<text x="970" y="1287" style="font-size:15px">常开</text>
<g class="ln">
<rect x="1045" y="1300" width="152" height="75"/>
<rect x="982" y="1323" width="111" height="28" fill="#fff"/>
<line x1="1035" y1="1323" x2="1035" y2="1351"/>
<rect x="1052" y="1329" width="20" height="17"/><line x1="1055" y1="1329" x2="1055" y2="1346"/>
<line x1="1085" y1="1323" x2="1085" y2="1351"/><line x1="1089" y1="1323" x2="1089" y2="1351"/>
<line x1="970" y1="1337" x2="1205" y2="1337"/>
<line x1="1093" y1="1330" x2="1197" y2="1330"/><line x1="1093" y1="1344" x2="1197" y2="1344"/>
<line x1="1120" y1="1316" x2="1213" y2="1316"/><line x1="1120" y1="1356" x2="1215" y2="1356"/>
<line x1="1133" y1="1305" x2="1133" y2="1406"/><line x1="1177" y1="1340" x2="1177" y2="1393"/>
<line x1="1050" y1="1361" x2="1072" y2="1361"/><line x1="1058" y1="1352" x2="1058" y2="1372"/>
<polygon points="1187,1356 1182,1365 1171,1365 1166,1356 1171,1347 1182,1347"/>
<circle cx="1176.5" cy="1356" r="6"/><circle cx="1176.5" cy="1356" r="3.5"/>
<circle cx="1058" cy="1361" r="5"/><circle cx="1058" cy="1361" r="3"/>
<polyline points="1007,1390 1090,1390"/><line x1="1090" y1="1390" x2="1127" y2="1324" marker-end="url(#a)"/>
<polyline points="1276,1402 1220,1402"/><line x1="1220" y1="1402" x2="1183" y2="1367" marker-end="url(#a)"/>
</g>
<use href="#h7" x="997" y="1337"/><use href="#h7" x="1018" y="1337"/>
<use href="#h7" x="1133" y="1316"/><use href="#h7" x="1133" y="1356"/>
<text x="1012" y="1399" style="font-size:13px" textLength="71">S(手指闭孔)</text>
<text x="1227" y="1393" style="font-size:15px" textLength="48">通气口</text>
<text x="957" y="1432" style="font-size:14px" textLength="303">*如果装上了磁性开关,φL安装孔不能使用.</text>

<!-- ============ bottom table ============ -->
<rect x="6" y="1492" width="1275" height="67" fill="#e2f0fa"/>
<line x1="6" y1="1492" x2="1281" y2="1492" stroke="#666" stroke-width="1.6"/>
<g stroke="#7d7d7d" stroke-width="1.8">
<line x1="6" y1="1559" x2="1281" y2="1559"/><line x1="6" y1="1591" x2="1281" y2="1591"/>
<line x1="6" y1="1625" x2="1281" y2="1625"/><line x1="6" y1="1658" x2="1281" y2="1658"/>
<line x1="6" y1="1690" x2="1281" y2="1690"/><line x1="6" y1="1723" x2="1281" y2="1723"/>
</g>
<g stroke="#8f8f8f" stroke-width="1">
<line x1="69" y1="1492" x2="69" y2="1723"/><line x1="104" y1="1492" x2="104" y2="1723"/>
<line x1="138" y1="1492" x2="138" y2="1723"/><line x1="176" y1="1492" x2="176" y2="1723"/>
<line x1="214" y1="1492" x2="214" y2="1723"/><line x1="259" y1="1492" x2="259" y2="1723"/>
<line x1="297" y1="1492" x2="297" y2="1723"/><line x1="335" y1="1492" x2="335" y2="1723"/>
<line x1="373" y1="1492" x2="373" y2="1723"/><line x1="404" y1="1492" x2="404" y2="1723"/>
<line x1="435" y1="1492" x2="435" y2="1723"/><line x1="520" y1="1492" x2="520" y2="1723"/>
<line x1="558" y1="1492" x2="558" y2="1723"/><line x1="596" y1="1492" x2="596" y2="1723"/>
<line x1="675" y1="1492" x2="675" y2="1723"/><line x1="713" y1="1492" x2="713" y2="1723"/>
<line x1="801" y1="1492" x2="801" y2="1723"/><line x1="848" y1="1532" x2="848" y2="1559"/>
<line x1="801" y1="1532" x2="896" y2="1532"/>
<line x1="896" y1="1492" x2="896" y2="1723"/><line x1="928" y1="1492" x2="928" y2="1723"/>
<line x1="963" y1="1492" x2="963" y2="1723"/><line x1="994" y1="1492" x2="994" y2="1723"/>
<line x1="1035" y1="1492" x2="1035" y2="1723"/><line x1="1072" y1="1492" x2="1072" y2="1723"/>
<line x1="1104" y1="1492" x2="1104" y2="1723"/><line x1="1142" y1="1492" x2="1142" y2="1723"/>
<line x1="1171" y1="1492" x2="1171" y2="1723"/><line x1="1207" y1="1492" x2="1207" y2="1723"/>
<line x1="1249" y1="1492" x2="1249" y2="1723"/>
</g>
<g class="bt">
<text x="37" y="1527" style="font-size:16px">缸径</text>
<text x="35" y="1543" style="font-size:16px">(mm)</text>
<text x="848" y="1512" style="font-size:16px" letter-spacing="2">接管口径</text>
<text x="86" y="1548">A</text><text x="121" y="1548">B</text><text x="157" y="1548">C</text>
<text x="195" y="1548">D</text><text x="236" y="1548">E</text><text x="278" y="1548">F</text>
<text x="316" y="1548">G</text><text x="354" y="1548">H</text><text x="388" y="1548">I</text>
<text x="419" y="1548">J</text><text x="477" y="1546">K</text><text x="539" y="1548">L</text>
<text x="577" y="1548">M</text><text x="635" y="1548">N</text><text x="694" y="1548">O</text>
<text x="757" y="1548">P</text><text x="824" y="1545">S</text><text x="872" y="1545">T</text>
<text x="912" y="1548">U</text><text x="945" y="1548">V</text><text x="978" y="1548">W</text>
<text x="1014" y="1548">X</text><text x="1053" y="1548">Y</text><text x="1088" y="1548">Z</text>
<text x="1123" y="1548">AA</text><text x="1156" y="1548">BB</text><text x="1189" y="1548">CC</text>
<text x="1228" y="1548">DD</text><text x="1265" y="1548">EE</text>

<text x="37" y="1575">6</text><text x="37" y="1609">10</text><text x="37" y="1642">16</text><text x="37" y="1675">20</text><text x="37" y="1707">25</text>

<text x="86" y="1579">4</text><text x="86" y="1611">2.8</text><text x="86" y="1644">3.9</text><text x="86" y="1677">4.5</text><text x="86" y="1709">4.6</text>
<g>
<text transform="matrix(.8,0,0,1,121,1579)">6</text><text transform="matrix(.8,0,0,1,121,1610)">12.8</text><text transform="matrix(.8,0,0,1,121,1643)">16.2</text><text transform="matrix(.8,0,0,1,121,1676)">21.7</text><text transform="matrix(.8,0,0,1,121,1708)">25.8</text>
<text transform="matrix(.8,0,0,1,157,1579)">29</text><text transform="matrix(.8,0,0,1,157,1611)">38.6</text><text transform="matrix(.8,0,0,1,157,1644)">44.6</text><text transform="matrix(.8,0,0,1,157,1677)">55.2</text><text transform="matrix(.8,0,0,1,157,1709)">60.4</text>
<text transform="matrix(.8,0,0,1,195,1579)">41</text><text transform="matrix(.8,0,0,1,195,1610)">52.4</text><text transform="matrix(.8,0,0,1,195,1643)">62.5</text><text transform="matrix(.8,0,0,1,195,1676)">78.7</text><text transform="matrix(.8,0,0,1,195,1708)">92</text>
<text transform="matrix(.88,0,0,1,236,1579)">16</text><text transform="matrix(.88,0,0,1,236,1610)">17.2</text><text transform="matrix(.88,0,0,1,236,1643)">22.6</text><text transform="matrix(.88,0,0,1,236,1676)">28</text><text transform="matrix(.88,0,0,1,236,1708)">37.5</text>
</g>
<text x="278" y="1579">11</text><text x="278" y="1611">12</text><text x="278" y="1644">16</text><text x="278" y="1677">20</text><text x="278" y="1709">27</text>
<text x="316" y="1579">2.5</text><text x="316" y="1611">3</text><text x="316" y="1644">4</text><text x="316" y="1677">5.2</text><text x="316" y="1709">8</text>
<text x="354" y="1579">5</text><text x="354" y="1611">5.7</text><text x="354" y="1644">7</text><text x="354" y="1677">9</text><text x="354" y="1709">12</text>
<text x="388" y="1579">2</text><text x="388" y="1611">4</text><text x="388" y="1644">7</text><text x="388" y="1677">8</text><text x="388" y="1709">10</text>
<text x="419" y="1579">12</text><text x="419" y="1611">16</text><text x="419" y="1644">24</text><text x="419" y="1677">30</text><text x="419" y="1709">36</text>
<g style="font-size:16px">
<text transform="matrix(.88,0,0,1,477,1578)">M3X0.5通孔</text><text transform="matrix(.88,0,0,1,477,1610)">M3X0.5深5</text><text transform="matrix(.88,0,0,1,477,1643)">M4X0.7深8</text><text transform="matrix(.86,0,0,1,477,1676)">M5X0.8深10</text><text transform="matrix(.88,0,0,1,477,1708)">M6深12</text>
<text transform="matrix(.78,0,0,1,635,1579)">M2X0.4深4</text><text transform="matrix(.78,0,0,1,635,1611)">M3X0.5深6</text><text transform="matrix(.78,0,0,1,635,1644)">M4X0.7深8</text><text transform="matrix(.78,0,0,1,635,1677)">M5X0.8深8</text><text transform="matrix(.78,0,0,1,635,1709)">M6深10</text>
<text transform="matrix(.9,0,0,1,757,1579)">M2X0.4</text><text transform="matrix(.9,0,0,1,757,1611)">M2.5X0.45</text><text transform="matrix(.9,0,0,1,757,1644)">M3X0.5</text><text transform="matrix(.9,0,0,1,757,1677)">M4X0.7</text><text transform="matrix(.9,0,0,1,757,1709)">M5X0.8</text>
</g>
<text x="539" y="1579">2.6</text><text x="539" y="1611">2.6</text><text x="539" y="1644">3.4</text><text x="539" y="1677">4.3</text><text x="539" y="1709">5.1</text>
<text transform="matrix(.78,0,0,1,577,1579)">-</text><text transform="matrix(.78,0,0,1,577,1611)">8.8</text><text transform="matrix(.78,0,0,1,577,1644)">10.7</text><text transform="matrix(.78,0,0,1,577,1677)">15.7</text><text transform="matrix(.78,0,0,1,577,1709)">19.3</text>
<text transform="matrix(.8,0,0,1,694,1579)">5</text><text transform="matrix(.8,0,0,1,694,1611)">11.4</text><text transform="matrix(.8,0,0,1,694,1644)">16</text><text transform="matrix(.8,0,0,1,694,1677)">18.6</text><text transform="matrix(.8,0,0,1,694,1709)">22</text>
<g letter-spacing="1.5">
<text x="848" y="1577">M3X0.5</text><text x="848" y="1610">M3X0.5</text><text x="848" y="1643">M5X0.8</text><text x="848" y="1675">M5X0.8</text><text x="848" y="1708">M5X0.8</text>
</g>
<text x="912" y="1579">–</text><text x="912" y="1611">7.2</text><text x="912" y="1644">7</text><text x="912" y="1677">7.5</text><text x="912" y="1709">7.7</text>
<text transform="matrix(.75,0,0,1,945,1579)">-</text><text transform="matrix(.75,0,0,1,945,1611)">18.8</text><text transform="matrix(.75,0,0,1,945,1644)">18.3</text><text transform="matrix(.75,0,0,1,945,1677)">22.2</text><text transform="matrix(.75,0,0,1,945,1709)">23.5</text>
<text x="978" y="1579">4</text><text x="978" y="1611">6.4</text><text x="978" y="1644">8</text><text x="978" y="1677">10</text><text x="978" y="1709">12</text>
<text x="1014" y="1579">2.1</text><text x="1014" y="1611">10.4</text><text x="1014" y="1644">13</text><text x="1014" y="1677">15</text><text x="1014" y="1709">20</text>
<text x="1053" y="1579">–</text><text x="1053" y="1611">5.4</text><text x="1053" y="1644">5.8</text><text x="1053" y="1677">9</text><text x="1053" y="1709">11.5</text>
<text x="1088" y="1579">7</text><text x="1088" y="1611">11</text><text x="1088" y="1644">17</text><text x="1088" y="1677">21</text><text x="1088" y="1709">26</text>
<text transform="matrix(.8,0,0,1,1123,1579)">10</text><text transform="matrix(.8,0,0,1,1123,1611)">16.4</text><text transform="matrix(.8,0,0,1,1123,1644)">23.6</text><text transform="matrix(.8,0,0,1,1123,1677)">27.6</text><text transform="matrix(.8,0,0,1,1123,1709)">33.6</text>
<text x="1156" y="1579">4</text><text x="1156" y="1611">12</text><text x="1156" y="1644">15</text><text x="1156" y="1677">18</text><text x="1156" y="1709">22</text>
<text transform="matrix(.85,0,0,1,1189,1579)">20</text><text transform="matrix(.85,0,0,1,1189,1613)">23</text><text transform="matrix(.85,0,0,1,1189,1644)">30.6</text><text transform="matrix(.85,0,0,1,1189,1677)">42</text><text transform="matrix(.85,0,0,1,1189,1711)">52</text>
<text x="1228" y="1579">13.6</text><text x="1228" y="1611">18</text><text x="1228" y="1644">22</text><text x="1228" y="1677">32</text><text x="1228" y="1709">40</text>
<text x="1265" y="1579">14</text><text x="1265" y="1611">10</text><text x="1265" y="1644">16</text><text x="1265" y="1677">20</text><text x="1265" y="1709">25</text>
</g>
</svg>
</body></html>
